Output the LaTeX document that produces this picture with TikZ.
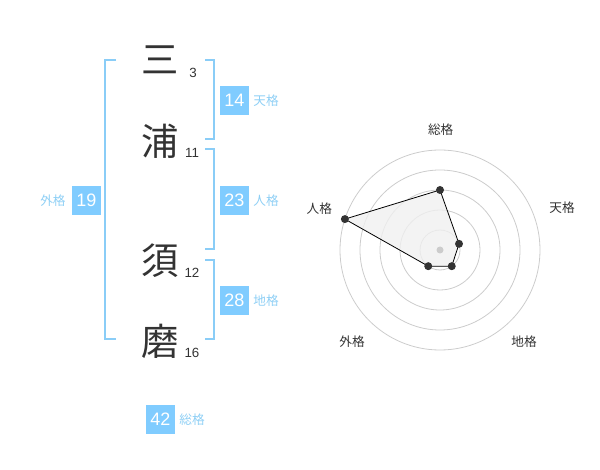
\documentclass[tikz,border=0pt]{standalone}
\usepackage{fontspec}
\setmainfont{Liberation Sans}
\newfontfamily\cjk{Noto Sans CJK JP}
\definecolor{boxblue}{HTML}{80CCFF}
\definecolor{lblblue}{HTML}{8ECFF5}
\definecolor{brblue}{HTML}{8ACDF7}
\definecolor{txt}{HTML}{333333}
\definecolor{ringgray}{HTML}{CCCCCC}
\definecolor{polyfill}{HTML}{F0F0F0}
\tikzset{
  kanji/.style={font=\cjk\fontsize{28}{28}\selectfont, text=txt, inner sep=0pt},
  strokes/.style={font=\fontsize{10}{10}\selectfont, text=txt, inner sep=0pt},
  numbox/.style={fill=boxblue, text=white, minimum width=21.75pt, minimum height=21.75pt, inner sep=0pt, font=\fontsize{13.5}{13.5}\selectfont},
  kaku/.style={font=\cjk\fontsize{9.5}{9.5}\selectfont, text=lblblue, inner sep=0pt},
  bracket/.style={draw=brblue, line width=1.5pt},
  ring/.style={draw=ringgray, line width=0.6pt},
  radlbl/.style={font=\cjk\fontsize{9.5}{9.5}\selectfont, text=txt, inner sep=0pt},
  rdot/.style={circle, fill=txt, minimum size=6pt, inner sep=0pt},
}
\begin{document}
\begin{tikzpicture}[x=0.75pt, y=-0.75pt]
\useasboundingbox (0,0) rectangle (600,470);
% kanji
\node[kanji] (k1) at (160,60) {三};
\node[kanji] (k2) at (160,141) {浦};
\node[kanji] (k3) at (160,261) {須};
\node[kanji] (k4) at (160,341) {磨};
\node[strokes] (s1) at (193,73) {3};
\node[strokes] (s2) at (192,153) {11};
\node[strokes] (s3) at (192,273) {12};
\node[strokes] (s4) at (192,353) {16};
% brackets
\draw[bracket] (116,60) -- (105,60) -- (105,339) -- (116,339);
\draw[bracket] (205,60) -- (214,60) -- (214,139) -- (205,139);
\draw[bracket] (205,149) -- (214,149) -- (214,249) -- (205,249);
\draw[bracket] (205,260) -- (214,260) -- (214,339) -- (205,339);
% boxes
\node[numbox] (ten) at (234.5,100.5) {14};
\node[kaku] (tenl) at (266,101) {天格};
\node[numbox] (jin) at (234.5,200.5) {23};
\node[kaku] (jinl) at (266,201) {人格};
\node[numbox] (chi) at (234.5,300.5) {28};
\node[kaku] (chil) at (266,301) {地格};
\node[numbox] (gai) at (86.5,200.5) {19};
\node[kaku] (gail) at (53,201) {外格};
\node[numbox] (sou) at (160.5,419.5) {42};
\node[kaku] (soul) at (192,420) {総格};
% radar
\begin{scope}[shift={(440,250)}, y=0.75pt]
  \foreach \r in {20,40,60,80,100} \draw[ring] (0,0) circle (\r);
  \coordinate (p1) at (90:60);
  \coordinate (p2) at (18:20);
  \coordinate (p3) at (-54:20);
  \coordinate (p4) at (-126:20);
  \coordinate (p5) at (162:100);
  \fill[polyfill, fill opacity=0.8] (p1) -- (p2) -- (p3) -- (p4) -- (p5) -- cycle;
  \draw[black, line width=0.6pt] (p1) -- (p2) -- (p3) -- (p4) -- (p5) -- cycle;
  \node[rdot] (d1) at (p1) {};
  \node[rdot] (d2) at (p2) {};
  \node[rdot] (d3) at (p3) {};
  \node[rdot] (d4) at (p4) {};
  \node[rdot] (d5) at (p5) {};
  \fill[ringgray] (0,0) circle (3.5);
  \node[radlbl] (l1) at (0.7,120) {総格};
  \node[radlbl] (l2) at (122,42) {天格};
  \node[radlbl] (l3) at (84,-91.7) {地格};
  \node[radlbl] (l4) at (-88,-91.7) {外格};
  \node[radlbl] (l5) at (-120.7,41.7) {人格};
\end{scope}
\end{tikzpicture}
\end{document}
